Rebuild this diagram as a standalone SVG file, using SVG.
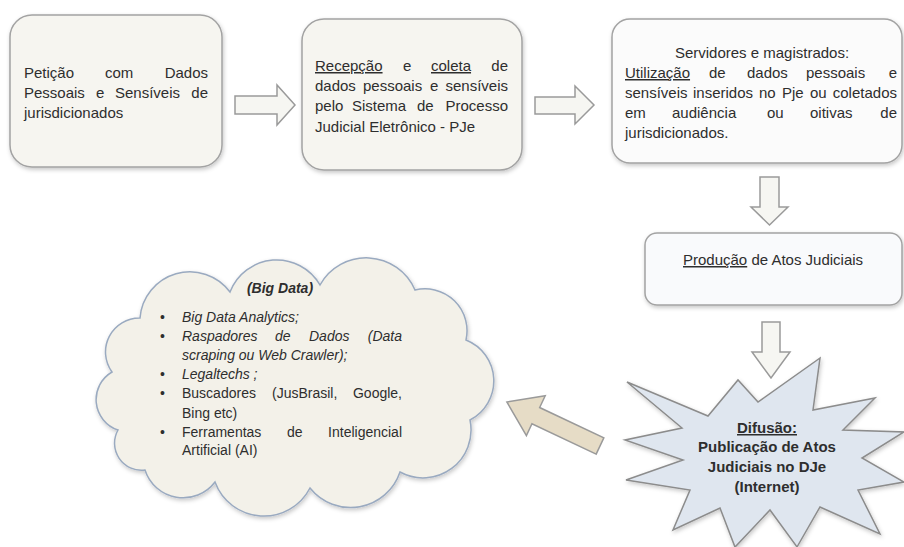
<svg xmlns="http://www.w3.org/2000/svg" width="904" height="547" viewBox="0 0 904 547">
<defs>
<style>
text{font-family:"Liberation Sans",Arial,sans-serif;font-size:15px;fill:#2e2e2e}
.box{stroke:#a3a3a3;stroke-width:1.5}
.arr{fill:#f6f6f2;stroke:#9a9a9a;stroke-width:1.5}
.c text{font-size:14px}
.it{font-style:italic}
.b{font-weight:bold}
.u{text-decoration:underline}
</style>
<filter id="sh" x="-10%" y="-10%" width="125%" height="130%">
<feDropShadow dx="1" dy="2" stdDeviation="2" flood-color="#000" flood-opacity="0.22"/>
</filter>
</defs>
<rect width="904" height="547" fill="#ffffff"/>

<g id="connectors">
<polygon class="arr" points="235,96 277,96 277,85 295,105 277,125 277,114 235,114"/>
<polygon class="arr" points="535,97 575,97 575,86 594,105 575,124 575,114 535,114"/>
<polygon class="arr" points="760,177 779,177 779,207 788,207 769.5,225 751,207 760,207"/>
<polygon class="arr" points="762,322 780,322 780,352 790,352 771,378 752,352 762,352"/>
<polygon points="0,-9 71,-9 71,-22 103,0 71,22 71,9 0,9" fill="#e6dcc6" stroke="#9a9a9a" stroke-width="1.5" transform="translate(600,446) rotate(205.3)"/>
</g>

<g id="node1">
<rect class="box" x="10" y="15" width="212" height="152" rx="22" fill="#f6f5f0" filter="url(#sh)"/>
<text y="78"><tspan x="24">Petição</tspan><tspan x="105">com</tspan><tspan x="208" text-anchor="end">Dados</tspan></text>
<text y="98"><tspan x="24">Pessoais</tspan><tspan x="96">e</tspan><tspan x="115">Sensíveis</tspan><tspan x="208" text-anchor="end">de</tspan></text>
<text x="24" y="118">jurisdicionados</text>
</g>

<g id="node2">
<rect class="box" x="302" y="19" width="220" height="151" rx="22" fill="#f6f5f0" filter="url(#sh)"/>
<text y="71"><tspan x="315" class="u">Recepção</tspan><tspan x="403">e</tspan><tspan x="431" class="u">coleta</tspan><tspan x="508" text-anchor="end">de</tspan></text>
<text y="91"><tspan x="315">dados</tspan><tspan x="363">pessoais</tspan><tspan x="430">e</tspan><tspan x="508" text-anchor="end">sensíveis</tspan></text>
<text y="111"><tspan x="315">pelo</tspan><tspan x="352">Sistema</tspan><tspan x="417">de</tspan><tspan x="508" text-anchor="end">Processo</tspan></text>
<text x="315" y="132">Judicial Eletrônico - PJe</text>
</g>

<g id="node3">
<rect class="box" x="612" y="19" width="290" height="144" rx="18" fill="#fbfbfb" filter="url(#sh)"/>
<text x="762" y="58" text-anchor="middle">Servidores e magistrados:</text>
<text y="78"><tspan x="625" class="u">Utilização</tspan><tspan x="709">de</tspan><tspan x="747">dados</tspan><tspan x="806">pessoais</tspan><tspan x="897" text-anchor="end">e</tspan></text>
<text y="98"><tspan x="625">sensíveis</tspan><tspan x="693">inseridos</tspan><tspan x="759">no</tspan><tspan x="782">Pje</tspan><tspan x="810">ou</tspan><tspan x="897" text-anchor="end">coletados</tspan></text>
<text y="118"><tspan x="625">em</tspan><tspan x="672">audiência</tspan><tspan x="767">ou</tspan><tspan x="810">oitivas</tspan><tspan x="897" text-anchor="end">de</tspan></text>
<text x="625" y="138">jurisdicionados.</text>
</g>

<g id="node4">
<rect class="box" x="645" y="233" width="257" height="72" rx="12" fill="#f9fafc" filter="url(#sh)"/>
<text x="683" y="265"><tspan class="u">Produção</tspan> de Atos Judiciais</text>
</g>

<g id="node5">
<polygon points="627,382 708,416 738,380 758,402 820,358 813,410 875,398 843,430 904,432 862,458 904,482 858,490 880,534 820,507 797,547 770,510 735,547 720,508 673,530 690,490 626,480 683,460 625,440 682,428" fill="#dfe6ef" stroke="#8c8c8c" stroke-width="1.5" filter="url(#sh)"/>
<text class="b" x="767" y="433" text-anchor="middle"><tspan class="u">Difusão:</tspan></text>
<text class="b" x="767" y="452" text-anchor="middle">Publicação de Atos</text>
<text class="b" x="767" y="472" text-anchor="middle">Judiciais no DJe</text>
<text class="b" x="767" y="492" text-anchor="middle">(Internet)</text>
</g>

<g id="node6" class="c">
<path d="M112,372 A34,34 0 0 1 140,318 A50,50 0 0 1 230,292 A50,50 0 0 1 320,285 A53,53 0 0 1 415,290 A42,42 0 0 1 466,340 A44,44 0 0 1 470,420 A48,48 0 0 1 400,472 A52,52 0 0 1 310,488 A52,52 0 0 1 215,482 A40,40 0 0 1 145,470 A27,27 0 0 1 118,430 A32,32 0 0 1 112,372 Z" fill="#f3f1e9" stroke="#9aaac0" stroke-width="1.5" filter="url(#sh)"/>
<text class="b it" x="280" y="293" text-anchor="middle">(Big Data)</text>
<text x="160" y="322">•</text>
<text x="160" y="341">•</text>
<text x="160" y="379">•</text>
<text x="160" y="398">•</text>
<text x="160" y="437">•</text>
<text class="it" x="182" y="322">Big Data Analytics;</text>
<text class="it" y="341"><tspan x="182">Raspadores</tspan><tspan x="275">de</tspan><tspan x="309">Dados</tspan><tspan x="402" text-anchor="end">(Data</tspan></text>
<text class="it" x="182" y="360">scraping ou Web Crawler);</text>
<text class="it" x="182" y="379">Legaltechs ;</text>
<text y="398"><tspan x="182">Buscadores</tspan><tspan x="272">(JusBrasil,</tspan><tspan x="402" text-anchor="end">Google,</tspan></text>
<text x="182" y="418">Bing etc)</text>
<text y="437"><tspan x="182">Ferramentas</tspan><tspan x="287">de</tspan><tspan x="402" text-anchor="end">Inteligencial</tspan></text>
<text x="182" y="455">Artificial (AI)</text>
</g>
</svg>
